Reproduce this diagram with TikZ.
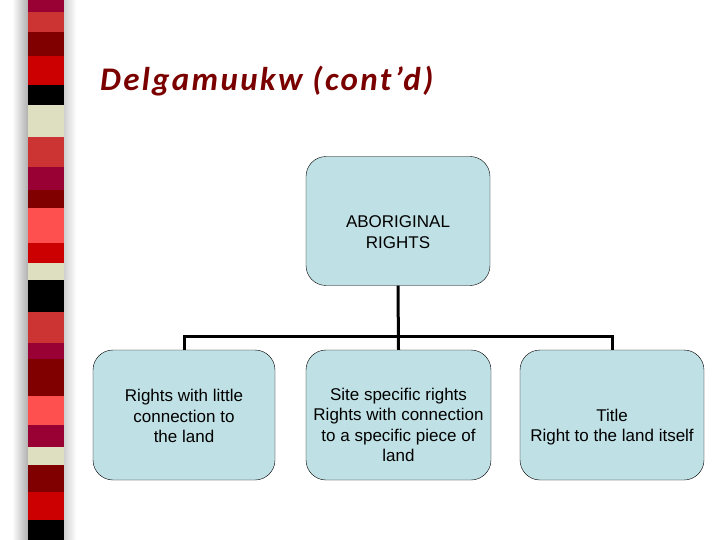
\documentclass[tikz,border=0pt]{standalone}
\usepackage{fontspec}
\setmainfont{Liberation Sans}
\newfontfamily\titlefont[LetterSpace=7]{Carlito}
\definecolor{boxblue}{HTML}{BFE0E4}
\definecolor{titlered}{HTML}{7A0000}
\definecolor{stripemag}{HTML}{990033}
\definecolor{stripecoral}{HTML}{CC3333}
\definecolor{stripedark}{HTML}{800000}
\definecolor{stripered}{HTML}{CC0000}
\definecolor{stripecream}{HTML}{DEDEC0}
\definecolor{stripesalmon}{HTML}{FF5050}
\begin{document}
\begin{tikzpicture}[
            x = 1pt, y = -1pt,
            box/.style={draw, fill=boxblue, rounded corners=20pt, minimum width=184pt, minimum height=129pt, inner sep=0pt},
            txt/.style={align=center, font=\fontsize{17}{20.5}\selectfont},
            line/.style={line width = 3pt},
            ]
        \useasboundingbox (0,0) rectangle (720,540);
        % stripe bar on the left
        \shade[left color=white, right color=gray!70] (12,0) rectangle (30,540);
        \shade[left color=gray!40, right color=white] (63,0) rectangle (76,540);
        \foreach \ya/\yb/\col in {0/12/stripemag, 12/32/stripecoral, 32/56/stripedark, 56/85/stripered, 85/105/black, 105/137/stripecream, 137/167/stripecoral, 167/190/stripemag, 190/208/stripedark, 208/243/stripesalmon, 243/263/stripered, 263/280/stripecream, 280/312/black, 312/343/stripecoral, 343/359/stripemag, 359/396/stripedark, 396/425/stripesalmon, 425/447/stripemag, 447/465/stripecream, 465/492/stripedark, 492/520/stripered, 520/540/black}
            \fill[\col] (28,\ya) rectangle (64,\yb);
        % title
        \node[anchor=base west, inner sep=0pt, text=titlered, font=\titlefont\bfseries\itshape\fontsize{33}{40}\selectfont] (title) at (100,91) {Delgamuukw (cont’d)};
        % boxes
        \node[box] (rights) at (398,221) {};
        \node[box, minimum width=182pt, minimum height=130pt] (little) at (184,415) {};
        \node[box, minimum width=185pt, minimum height=130pt] (site) at (398.5,415) {};
        \node[box, minimum height=130pt] (title land) at (612,415) {};
        \node[txt] (rights text) at ([yshift=-11pt]rights.center) {ABORIGINAL\\RIGHTS};
        \node[txt] (little text) at ([yshift=-1pt]little.center) {Rights with little\\connection to\\the land};
        \node[txt] (site text) at ([yshift=-10pt]site.center) {Site specific rights\\Rights with connection\\to a specific piece of\\land};
        \node[txt] (title text) at ([yshift=-12pt]title land.center) {Title\\Right to the land itself};
        % connectors
        \coordinate (bus) at (398,336);
        \draw[line] (rights.south) -- (site.north);
        \draw[line] (little.north) -- (little.north |- bus) -- (title land.north |- bus) -- (title land.north);
    \end{tikzpicture}
\end{document}
